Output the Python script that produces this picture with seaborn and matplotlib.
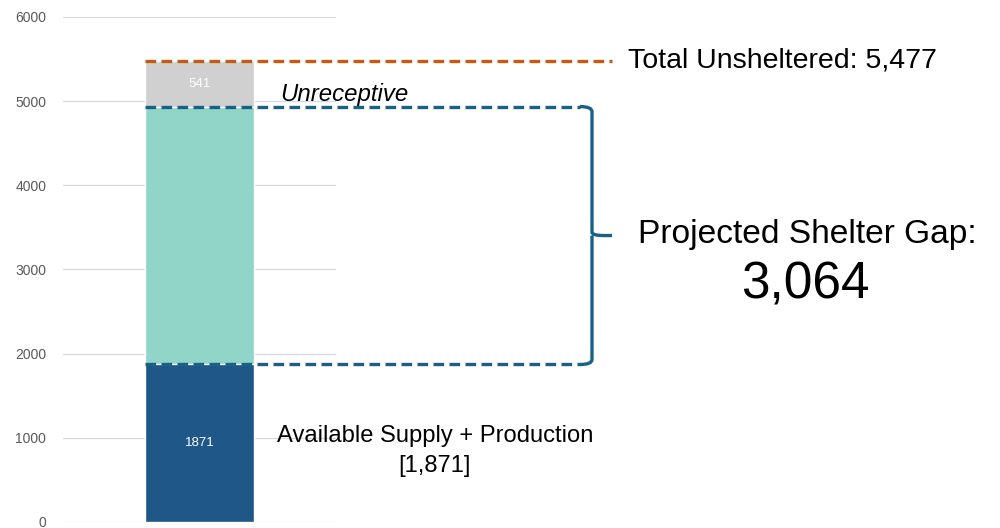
import numpy as np
import pandas as pd
import seaborn as sns
import matplotlib.pyplot as plt
from matplotlib.transforms import blended_transform_factory
from matplotlib.path import Path
from matplotlib.patches import PathPatch

# data
segments = ["Available Supply + Production", "Projected Shelter Gap", "Unreceptive"]
values = [1871, 3064, 541]
colors = ["#1f5788", "#91d4c8", "#d0d0d0"]
total_unsheltered = 5477
yticks = [0, 1000, 2000, 3000, 4000, 5000, 6000]

sns.set_style("white")
plt.rcParams['font.family'] = ['Liberation Sans', 'DejaVu Sans']

fig = plt.figure(figsize=(10, 5.28), dpi=100)
ax = fig.add_axes([0.063, 0.0114, 0.273, 0.9565])

# stacked bar: draw cumulative totals from the top down
cum = np.cumsum(values)
df = pd.DataFrame({"cat": [""] * len(values), "cum": cum, "seg": segments})
for i in range(len(values) - 1, -1, -1):
    sns.barplot(data=df.iloc[[i]], x="cat", y="cum", color=colors[i],
                width=0.4, saturation=1, ax=ax, zorder=2)

ax.set_ylim(0, 6000)
ax.set_xlim(-0.5, 0.5)
ax.set_yticks(yticks)
ax.set_yticklabels([str(t) for t in yticks], color="#595959", fontsize=10)
ax.set_xticks([])
ax.set_xlabel("")
ax.set_ylabel("")
ax.yaxis.grid(True, color="#d9d9d9", linewidth=0.9, zorder=0)
ax.set_axisbelow(True)
ax.tick_params(axis="y", length=0, pad=12)
sns.despine(ax=ax, left=True, bottom=True, top=True, right=True)

# value labels inside the bar for first and last segment
bottoms = np.concatenate([[0], cum[:-1]])
for i in [0, 2]:
    ax.text(0, bottoms[i] + values[i] / 2, str(values[i]), ha="center",
            va="center", color="white", fontsize=9.5, zorder=3)

# annotations in figure-x / data-y coordinates
tr = blended_transform_factory(fig.transFigure, ax.transData)
orange = "#c55a11"
blue = "#1b6085"

fig.lines.append(plt.Line2D([0.145, 0.612], [total_unsheltered] * 2, transform=tr,
                            color=orange, lw=2.4, ls=(0, (3.2, 1.6)), zorder=5))
gap_top = cum[1]
gap_bot = cum[0]
for yv in [gap_top, gap_bot]:
    fig.lines.append(plt.Line2D([0.145, 0.58], [yv, yv], transform=tr,
                                color=blue, lw=2.4, ls=(0, (3.2, 1.6)), zorder=5))

# curly brace
mid = (gap_top + gap_bot) / 2
verts = [(0.58, gap_top), (0.592, gap_top), (0.592, gap_top - 60),
         (0.592, mid + 40), (0.592, mid), (0.604, mid), (0.612, mid),
         (0.592, mid), (0.592, mid - 40),
         (0.592, gap_bot + 60), (0.592, gap_bot), (0.58, gap_bot)]
codes = [Path.MOVETO, Path.CURVE3, Path.CURVE3,
         Path.LINETO, Path.CURVE3, Path.CURVE3, Path.LINETO,
         Path.MOVETO, Path.LINETO,
         Path.LINETO, Path.CURVE3, Path.CURVE3]
fig.patches.append(PathPatch(Path(verts, codes), transform=tr, fill=False,
                             edgecolor=blue, lw=2.4, zorder=5))

fig.text(0.628, total_unsheltered, f"Total Unsheltered: {total_unsheltered:,}",
         transform=tr, ha="left", va="center", fontsize=20.5, color="black")
fig.text(0.28, 5080, "Unreceptive", transform=tr, ha="left", va="center",
         fontsize=17.3, style="italic", color="black")
fig.text(0.807, 3420, "Projected Shelter Gap:", transform=tr, ha="center",
         va="center", fontsize=24.1, color="black")
fig.text(0.805, 2820, f"{values[1]:,}", transform=tr, ha="center",
         va="center", fontsize=37, color="black")
fig.text(0.435, 1020, "Available Supply + Production", transform=tr,
         ha="center", va="center", fontsize=17.1, color="black")
fig.text(0.435, 670, f"[{values[0]:,}]", transform=tr, ha="center",
         va="center", fontsize=17.1, color="black")

fig.savefig("out.png", dpi=100)
